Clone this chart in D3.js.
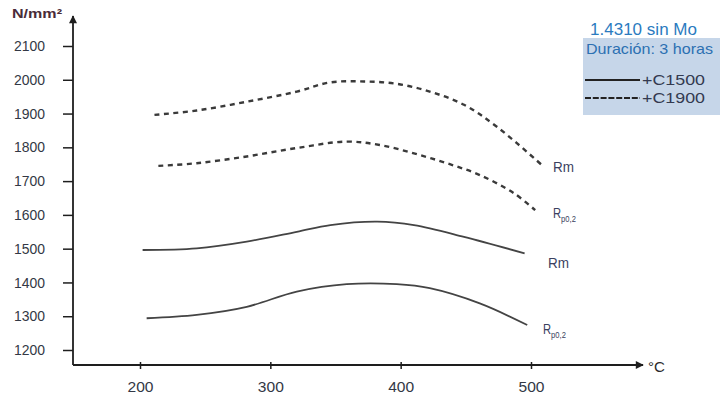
<!DOCTYPE html>
<html><head><meta charset="utf-8">
<script src="https://cdn.jsdelivr.net/npm/d3@7"></script>
<style>body{margin:0;background:#fff}svg{display:block}</style>
</head><body>
<svg id="c" width="720" height="400"></svg>
<script>
// ---- data ----
const xTicks = [200, 300, 400, 500];
const yTicks = [1200, 1300, 1400, 1500, 1600, 1700, 1800, 1900, 2000, 2100];
const rmC1500T = [202, 243.5, 281.9, 320.3, 346.1, 381.9, 410.2, 448.6, 495.1];
const rmC1500V = [1496, 1501, 1521, 1550, 1570, 1580, 1570, 1535, 1486];
const rpC1500T = [205.1, 243.5, 281.9, 320.3, 358.6, 397, 422.3, 460.7, 497.1];
const rpC1500V = [1294, 1304, 1328, 1373, 1395, 1395, 1383, 1338, 1274];
const rmC1900T = [211.1, 243.5, 281.9, 320.3, 345.5, 371.8, 397, 422.3, 448.6, 473.8, 508.2];
const rmC1900V = [1896, 1909, 1935, 1965, 1992, 1995, 1988, 1965, 1926, 1861, 1748];
const rpC1900T = [214.1, 243.5, 281.9, 320.3, 358.6, 383.9, 410.2, 435.4, 460.7, 487, 503.2];
const rpC1900V = [1745, 1753, 1773, 1798, 1817, 1807, 1782, 1753, 1718, 1664, 1614];
const legendTitle = "1.4310 sin Mo";
const legendSub = "Duración: 3 horas";
const legendNames = ["+C1500", "+C1900"];

const svg = d3.select("#c");
const x = d3.scaleLinear().domain([200, 500]).range([140, 531]);
const y = d3.scaleLinear().domain([1200, 2100]).range([350, 46]);
const x0 = 73, yBase = 365;
const axisCol = "#1e1e1e";
const textCol = "#333845";
const FONT = "'Liberation Sans',Arial,sans-serif";

function ctext(px, py, str, width, opts) {
  opts = opts || {};
  const t = svg.append("text").attr("x", px).attr("y", py)
    .attr("fill", opts.fill || textCol).attr("text-anchor", opts.anchor || "start")
    .style("font-family", FONT).style("font-size", (opts.size || 13) + "px")
    .style("font-weight", opts.weight || "normal")
    .attr("textLength", width).attr("lengthAdjust", "spacingAndGlyphs").text(str);
  return t;
}

// arrow marker
const defs = svg.append("defs");
defs.append("marker").attr("id","arr").attr("viewBox","0 0 10 10").attr("refX",9).attr("refY",5)
  .attr("markerWidth",11).attr("markerHeight",8).attr("markerUnits","userSpaceOnUse").attr("orient","auto")
  .append("path").attr("d","M0,0L10,5L0,10z").attr("fill",axisCol);

// Y axis
const yAx = svg.append("g").attr("transform",`translate(${x0},0)`)
  .call(d3.axisLeft(y).tickValues(yTicks).tickSize(10).tickPadding(18).tickFormat(d3.format("d")));
yAx.select(".domain").remove();
yAx.selectAll("line").attr("stroke",axisCol).attr("stroke-width",1.5);
yAx.selectAll("text").attr("fill",textCol).style("font-family",FONT).style("font-size","14.5px")
  .attr("textLength",31).attr("lengthAdjust","spacingAndGlyphs");

// X axis
const xAx = svg.append("g").attr("transform",`translate(0,${yBase})`)
  .call(d3.axisBottom(x).tickValues(xTicks).tickSize(4).tickPadding(13).tickFormat(d3.format("d")));
xAx.select(".domain").remove();
xAx.selectAll("line").attr("stroke",axisCol).attr("stroke-width",1.5).attr("y1",-3);
xAx.selectAll("text").attr("fill",textCol).style("font-family",FONT).style("font-size","14.5px")
  .attr("textLength",26).attr("lengthAdjust","spacingAndGlyphs");

// axis lines with arrows
svg.append("line").attr("x1",x0).attr("y1",yBase).attr("x2",x0).attr("y2",16)
  .attr("stroke",axisCol).attr("stroke-width",1.8).attr("marker-end","url(#arr)");
svg.append("line").attr("x1",x0).attr("y1",yBase).attr("x2",643).attr("y2",yBase)
  .attr("stroke",axisCol).attr("stroke-width",1.8).attr("marker-end","url(#arr)");

ctext(12, 18, "N/mm²", 50, {size: 13, weight: "bold", fill: "#4a2c38"});
ctext(648, 372, "°C", 17, {size: 15, fill: "#2a2a2a"});

// curves
const line = d3.line().x(d => x(d[0])).y(d => y(d[1])).curve(d3.curveCatmullRom.alpha(0.5));
function series(T, V, dashed) {
  svg.append("path").datum(d3.zip(T, V)).attr("d", line).attr("fill","none")
    .attr("stroke", dashed ? "#3a3a3a" : "#444").attr("stroke-width", dashed ? 2.4 : 1.8)
    .attr("stroke-dasharray", dashed ? "5,4.5" : null);
}
series(rmC1500T, rmC1500V, false);
series(rpC1500T, rpC1500V, false);
series(rmC1900T, rmC1900V, true);
series(rpC1900T, rpC1900V, true);

// curve labels
const lblCol = "#3a4060";
function rmLabel(px, py) { ctext(px, py, "Rm", 21, {size: 14, fill: lblCol}); }
function rpLabel(px, py) {
  const g = svg.append("g").attr("transform", `translate(${px},${py}) scale(0.8,1)`);
  const t = g.append("text").attr("fill", lblCol).style("font-family", FONT).style("font-size","14px");
  t.append("tspan").text("R");
  t.append("tspan").attr("dy",4).style("font-size","9.5px").text("p0,2");
}
rmLabel(553, 172);
rpLabel(553, 218);
rmLabel(548, 268);
rpLabel(543, 334);

// legend
svg.append("rect").attr("x",583).attr("y",38).attr("width",137).attr("height",77).attr("fill","#c6d6e9");
ctext(590, 35, legendTitle, 107, {size: 17, fill: "#2b7bbf"});
ctext(586, 54, legendSub, 127, {size: 15, fill: "#2c70b2"});
legendNames.forEach((n, i) => {
  const ly = 80 + i * 18;
  svg.append("line").attr("x1",585).attr("x2",640).attr("y1",ly).attr("y2",ly)
    .attr("stroke","#222").attr("stroke-width", i ? 2.2 : 1.8).attr("stroke-dasharray", i ? "6,1.8" : null);
  ctext(642, ly + 5, n, 63, {size: 15, fill: "#333a50"});
});
</script>
</body></html>
